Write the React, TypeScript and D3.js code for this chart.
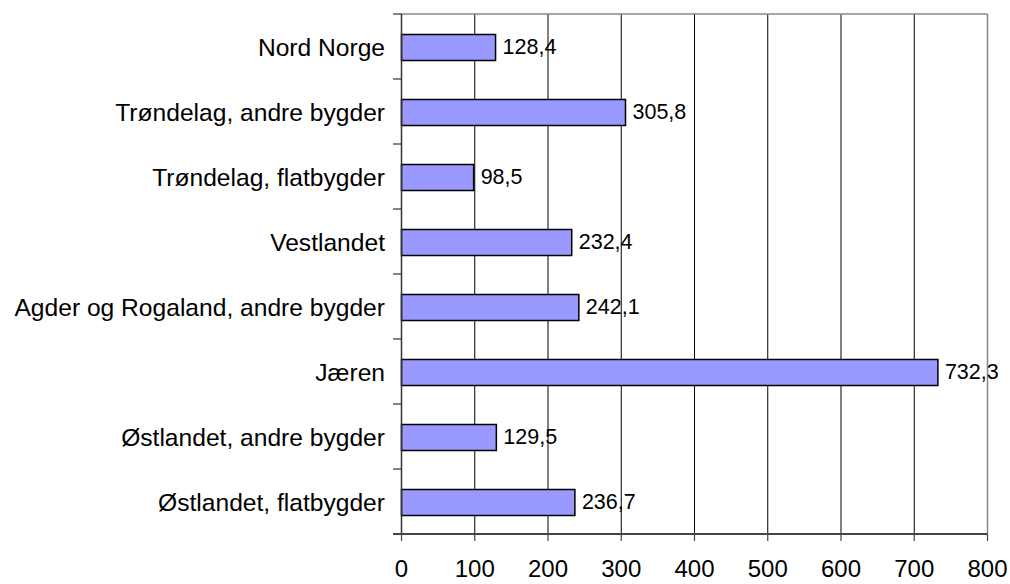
import React from "react";
import * as d3 from "d3";

const categories = [
  "Nord Norge",
  "Trøndelag, andre bygder",
  "Trøndelag, flatbygder",
  "Vestlandet",
  "Agder og Rogaland, andre bygder",
  "Jæren",
  "Østlandet, andre bygder",
  "Østlandet, flatbygder",
];
const values = [128.4, 305.8, 98.5, 232.4, 242.1, 732.3, 129.5, 236.7];
const xTicks = [0, 100, 200, 300, 400, 500, 600, 700, 800];

const W = 1010;
const H = 584;
const left = 401.5;
const right = 987.5;
const top = 14;
const bottom = 534;

export default function App() {
  const x = d3.scaleLinear().domain([0, 800]).range([left, right]);
  const y = d3.scaleBand<string>().domain(categories).range([top, bottom]).paddingInner(0).paddingOuter(0);
  const step = y.step();
  const barH = 26;
  const font = "Arial, 'Liberation Sans', sans-serif";
  const fmt = (v: number) => v.toFixed(1).replace(".", ",");

  return (
    <svg width={W} height={H} style={{ position: "absolute", left: 0, top: 0 }} fontFamily={font}>
      <rect x={0} y={0} width={W} height={H} fill="#fff" />
      {/* gridlines */}
      {xTicks.slice(1, -1).map((t) => (
        <line key={"g" + t} x1={x(t)} x2={x(t)} y1={top} y2={bottom} stroke="#000" strokeWidth={1} />
      ))}
      {/* border top/right */}
      <line x1={left} x2={right} y1={top} y2={top} stroke="#888" strokeWidth={1.5} />
      <line x1={right} x2={right} y1={top} y2={bottom} stroke="#888" strokeWidth={1.5} />
      {/* bars */}
      {categories.map((c, i) => {
        const cy = (y(c) as number) + step / 2;
        return (
          <g key={c}>
            <rect
              x={x(0)}
              y={cy - barH / 2 + 1}
              width={x(values[i]) - x(0)}
              height={barH}
              fill="#9999FF"
              stroke="#000"
              strokeWidth={1.5}
            />
            <text x={x(values[i]) + 7} y={cy + 7} fontSize={21.5} fill="#000">
              {fmt(values[i])}
            </text>
            <text x={385} y={cy + 9.5} fontSize={24.6} textAnchor="end" fill="#000">
              {c}
            </text>
          </g>
        );
      })}
      {/* left axis */}
      <line x1={left} x2={left} y1={top} y2={bottom} stroke="#333" strokeWidth={1.5} />
      {d3.range(categories.length + 1).map((i) => (
        <line key={"lt" + i} x1={393} x2={left} y1={top + i * step} y2={top + i * step} stroke="#333" strokeWidth={1.2} />
      ))}
      {/* bottom axis */}
      <line x1={393} x2={right} y1={bottom} y2={bottom} stroke="#444" strokeWidth={2} />
      {xTicks.map((t) => (
        <g key={"bt" + t}>
          <line x1={x(t)} x2={x(t)} y1={bottom} y2={bottom + 7} stroke="#444" strokeWidth={1.2} />
          <text x={x(t)} y={577} fontSize={24} textAnchor="middle" fill="#000">
            {t}
          </text>
        </g>
      ))}
    </svg>
  );
}
